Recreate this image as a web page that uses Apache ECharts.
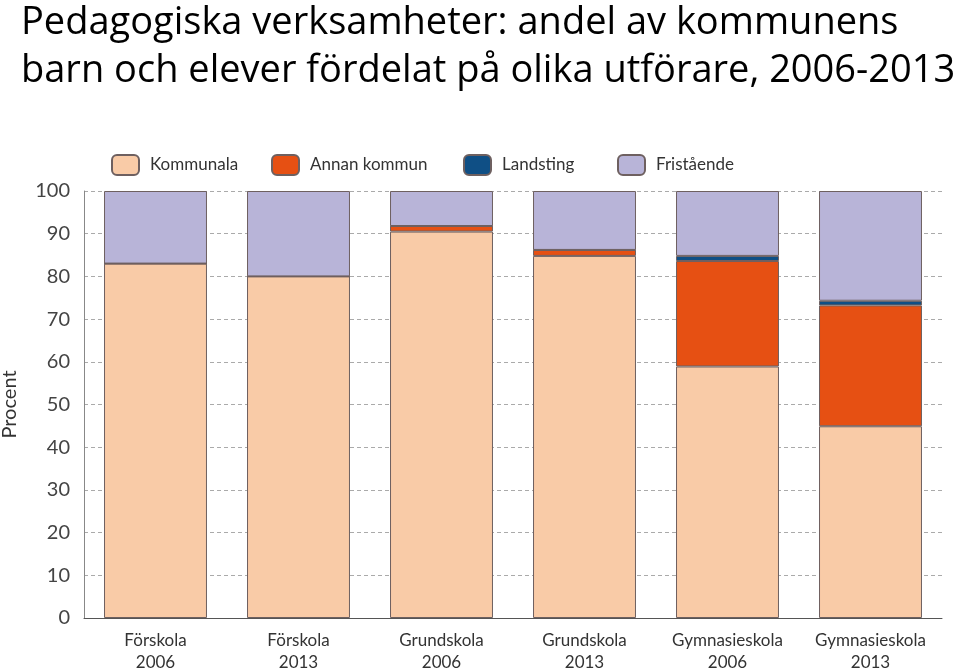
<!DOCTYPE html>
<html><head><meta charset="utf-8">
<script src="https://cdn.jsdelivr.net/npm/echarts@6/dist/echarts.min.js"></script>
<style>html,body{margin:0;padding:0;background:#fff}#c{width:960px;height:671px}</style>
</head><body><div id="c"></div>
<script>
const categories = ['Förskola\n2006','Förskola\n2013','Grundskola\n2006','Grundskola\n2013','Gymnasieskola\n2006','Gymnasieskola\n2013'];
const kommunala   = [83, 80, 90.5, 84.8, 58.9, 44.9];
const annanKommun = [0, 0, 1.3, 1.4, 24.7, 28.3];
const landsting   = [0, 0, 0, 0, 1.2, 1.1];
const fristaende  = [17, 20, 8.2, 13.8, 15.2, 25.7];
const seriesNames = ['Kommunala','Annan kommun','Landsting','Fristående'];
const colors = ['#F9CBA7','#E65013','#0F4F85','#B8B4D8'];
const yTicks = [0,10,20,30,40,50,60,70,80,90,100];

const dataSets = [kommunala, annanKommun, landsting, fristaende];
const legendLeft = [106, 266, 458, 612];
const font = 'Lato';

const chart = echarts.init(document.getElementById('c'));
chart.setOption({
  animation:false,
  title:{
    text:'Pedagogiska verksamheter: andel av kommunens\nbarn och elever fördelat på olika utförare, 2006-2013',
    left:16, top:-6,
    textStyle:{fontFamily:'Open Sans', fontSize:38, fontWeight:'normal', color:'#000', lineHeight:48}
  },
  legend: seriesNames.map((n,i)=>({
    data:[n], left:legendLeft[i], top:149, itemWidth:27, itemHeight:20, itemGap:15,
    textStyle:{fontFamily:font, fontSize:17, color:'#333', padding:[0,0,0,6]}
  })),
  grid:{left:84, right:18, top:191, bottom:53, containLabel:false, outerBoundsMode:'none'},
  xAxis:{
    type:'category', data:categories,
    axisLine:{lineStyle:{color:'#555', width:1}},
    axisTick:{inside:true, length:9, lineStyle:{color:'#555'}},
    axisLabel:{interval:0, fontFamily:font, fontSize:17, color:'#333', lineHeight:22, margin:12}
  },
  yAxis:{
    type:'value', min:0, max:100, interval:10,
    name:'Procent', nameLocation:'middle', nameGap:64, nameRotate:90,
    nameTextStyle:{fontFamily:font, fontSize:20, color:'#333'},
    axisLine:{show:true, lineStyle:{color:'#888'}},
    axisTick:{show:false},
    axisLabel:{fontFamily:font, fontSize:20, color:'#444', margin:14, padding:[0,0,8,0],
      formatter:v=> yTicks.includes(v) ? String(v) : ''},
    splitLine:{lineStyle:{color:'#aaa', type:[4,3], width:1}}
  },
  series: seriesNames.map((n,i)=>({
    name:n, type:'bar', stack:'total', barWidth:'72%',
    data:dataSets[i],
    itemStyle:{color:colors[i], borderColor:'#6e6060', borderWidth:1}
  }))
});
</script></body></html>
